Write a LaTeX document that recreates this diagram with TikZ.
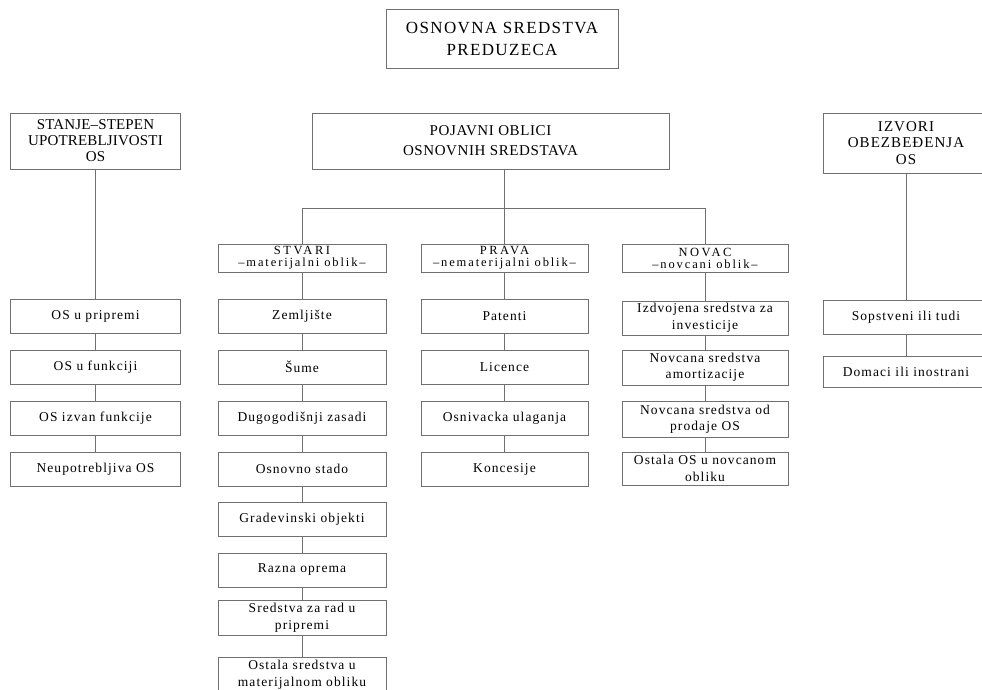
\documentclass[tikz,border=0pt]{standalone}
\usepackage{fontspec}
\setmainfont{Liberation Serif}
\newfontfamily\bodyfont{Liberation Serif}[LetterSpace=8]
\newfontfamily\subfont{Liberation Serif}[LetterSpace=15]
\newfontfamily\subcaps{Liberation Serif}[LetterSpace=20]
\newfontfamily\capsfont{Liberation Serif}[LetterSpace=4]
\newfontfamily\titlefont{Liberation Serif}[LetterSpace=8]
\newfontfamily\plainfont{Liberation Serif}[LetterSpace=1]
\newfontfamily\izvfont{Liberation Serif}[LetterSpace=7]
\definecolor{linegray}{RGB}{112,112,112}
\tikzset{
  box/.style={draw=linegray, line width=0.9pt, inner sep=0pt, align=center,
    font=\bodyfont\fontsize{13.5}{16.5}\selectfont},
  subbox/.style={box, font=\subfont\fontsize{12.5}{12}\selectfont},
  conn/.style={draw=linegray, line width=0.9pt}
}
\begin{document}
\begin{tikzpicture}[x=1pt,y=-1pt]
\useasboundingbox (0,0) rectangle (982,690);
\clip (0,0) rectangle (982,690);
% top
\node[box, minimum width=232pt, minimum height=59pt, font=\titlefont\fontsize{17}{22}\selectfont] (title) at (502,38.5) {OSNOVNA SREDSTVA\\PREDUZECA};
% headers
\node[box, minimum width=170pt, minimum height=56pt, font=\plainfont\fontsize{15}{16}\selectfont] (stanje) at (95.5,141) {STANJE–STEPEN\\UPOTREBLJIVOSTI\\OS};
\node[box, minimum width=357pt, minimum height=56pt, font=\capsfont\fontsize{15}{20}\selectfont] (pojavni) at (490.5,141) {POJAVNI OBLICI\\OSNOVNIH SREDSTAVA};
\node[box, minimum width=166pt, minimum height=60pt, font=\izvfont\fontsize{15}{16.5}\selectfont] (izvori) at (906,143) {IZVORI\\OBEZBEĐENJA\\OS};
% second-level headers
\node[subbox, minimum width=168pt, minimum height=28pt] (stvari) at (302,258) {{\subcaps STVARI}\\–materijalni oblik–};
\node[subbox, minimum width=167pt, minimum height=28pt] (prava) at (504.5,258) {{\subcaps PRAVA}\\–nematerijalni oblik–};
\node[subbox, minimum width=166pt, minimum height=28pt] (novac) at (705,258) {{\subcaps NOVAC}\\–novcani oblik–};
% left column
\node[box, minimum width=170pt, minimum height=34pt] (l1) at (95.5,316) {OS u pripremi};
\node[box, minimum width=170pt, minimum height=34pt] (l2) at (95.5,367) {OS u funkciji};
\node[box, minimum width=170pt, minimum height=34pt] (l3) at (95.5,418) {OS izvan funkcije};
\node[box, minimum width=170pt, minimum height=34pt] (l4) at (95.5,469) {Neupotrebljiva OS};
% stvari column
\node[box, minimum width=168pt, minimum height=34pt] (s1) at (302,316) {Zemljište};
\node[box, minimum width=168pt, minimum height=34pt] (s2) at (302,367) {Šume};
\node[box, minimum width=168pt, minimum height=34pt] (s3) at (302,418) {Dugogodišnji zasadi};
\node[box, minimum width=168pt, minimum height=34pt] (s4) at (302,469) {Osnovno stado};
\node[box, minimum width=168pt, minimum height=34pt] (s5) at (302,519) {Gradevinski objekti};
\node[box, minimum width=168pt, minimum height=34pt] (s6) at (302,570) {Razna oprema};
\node[box, minimum width=168pt, minimum height=35pt] (s7) at (302,617.5) {Sredstva za rad u\\pripremi};
\node[box, minimum width=168pt, minimum height=35pt] (s8) at (302,674.5) {Ostala sredstva u\\materijalnom obliku};
% prava column
\node[box, minimum width=167pt, minimum height=34pt] (p1) at (504.5,316) {Patenti};
\node[box, minimum width=167pt, minimum height=34pt] (p2) at (504.5,367) {Licence};
\node[box, minimum width=167pt, minimum height=34pt] (p3) at (504.5,418) {Osnivacka ulaganja};
\node[box, minimum width=167pt, minimum height=34pt] (p4) at (504.5,469) {Koncesije};
% novac column
\node[box, minimum width=166pt, minimum height=34pt] (n1) at (705,318) {Izdvojena sredstva za\\investicije};
\node[box, minimum width=166pt, minimum height=35pt] (n2) at (705,367.5) {Novcana sredstva\\amortizacije};
\node[box, minimum width=166pt, minimum height=36pt] (n3) at (705,419) {Novcana sredstva od\\prodaje OS};
\node[box, minimum width=166pt, minimum height=33pt] (n4) at (705,468.5) {Ostala OS u novcanom\\obliku};
% right column
\node[box, minimum width=166pt, minimum height=34pt] (r1) at (906,317) {Sopstveni ili tudi};
\node[box, minimum width=166pt, minimum height=31pt] (r2) at (906,371.5) {Domaci ili inostrani};
% connectors
\coordinate (hub) at (504,208);
\draw[conn] (stanje.south) -- (l1.north);
\draw[conn] (l1.south) -- (l2.north);
\draw[conn] (l2.south) -- (l3.north);
\draw[conn] (l3.south) -- (l4.north);
\draw[conn] (izvori.south) -- (r1.north);
\draw[conn] (r1.south) -- (r2.north);
\draw[conn] (pojavni.south -| hub) -- (hub);
\draw[conn] (stvari.north) -- (stvari.north |- hub) -- (novac.north |- hub) -- (novac.north);
\draw[conn] (hub) -- (hub |- prava.north);
\draw[conn] (stvari.south) -- (s1.north);
\draw[conn] (s1.south) -- (s2.north);
\draw[conn] (s2.south) -- (s3.north);
\draw[conn] (s3.south) -- (s4.north);
\draw[conn] (s4.south) -- (s5.north);
\draw[conn] (s5.south) -- (s6.north);
\draw[conn] (s6.south) -- (s7.north);
\draw[conn] (s7.south) -- (s8.north);
\draw[conn] (prava.south) -- (p1.north);
\draw[conn] (p1.south) -- (p2.north);
\draw[conn] (p2.south) -- (p3.north);
\draw[conn] (p3.south) -- (p4.north);
\draw[conn] (novac.south) -- (n1.north);
\draw[conn] (n1.south) -- (n2.north);
\draw[conn] (n2.south) -- (n3.north);
\draw[conn] (n3.south) -- (n4.north);
\end{tikzpicture}
\end{document}
